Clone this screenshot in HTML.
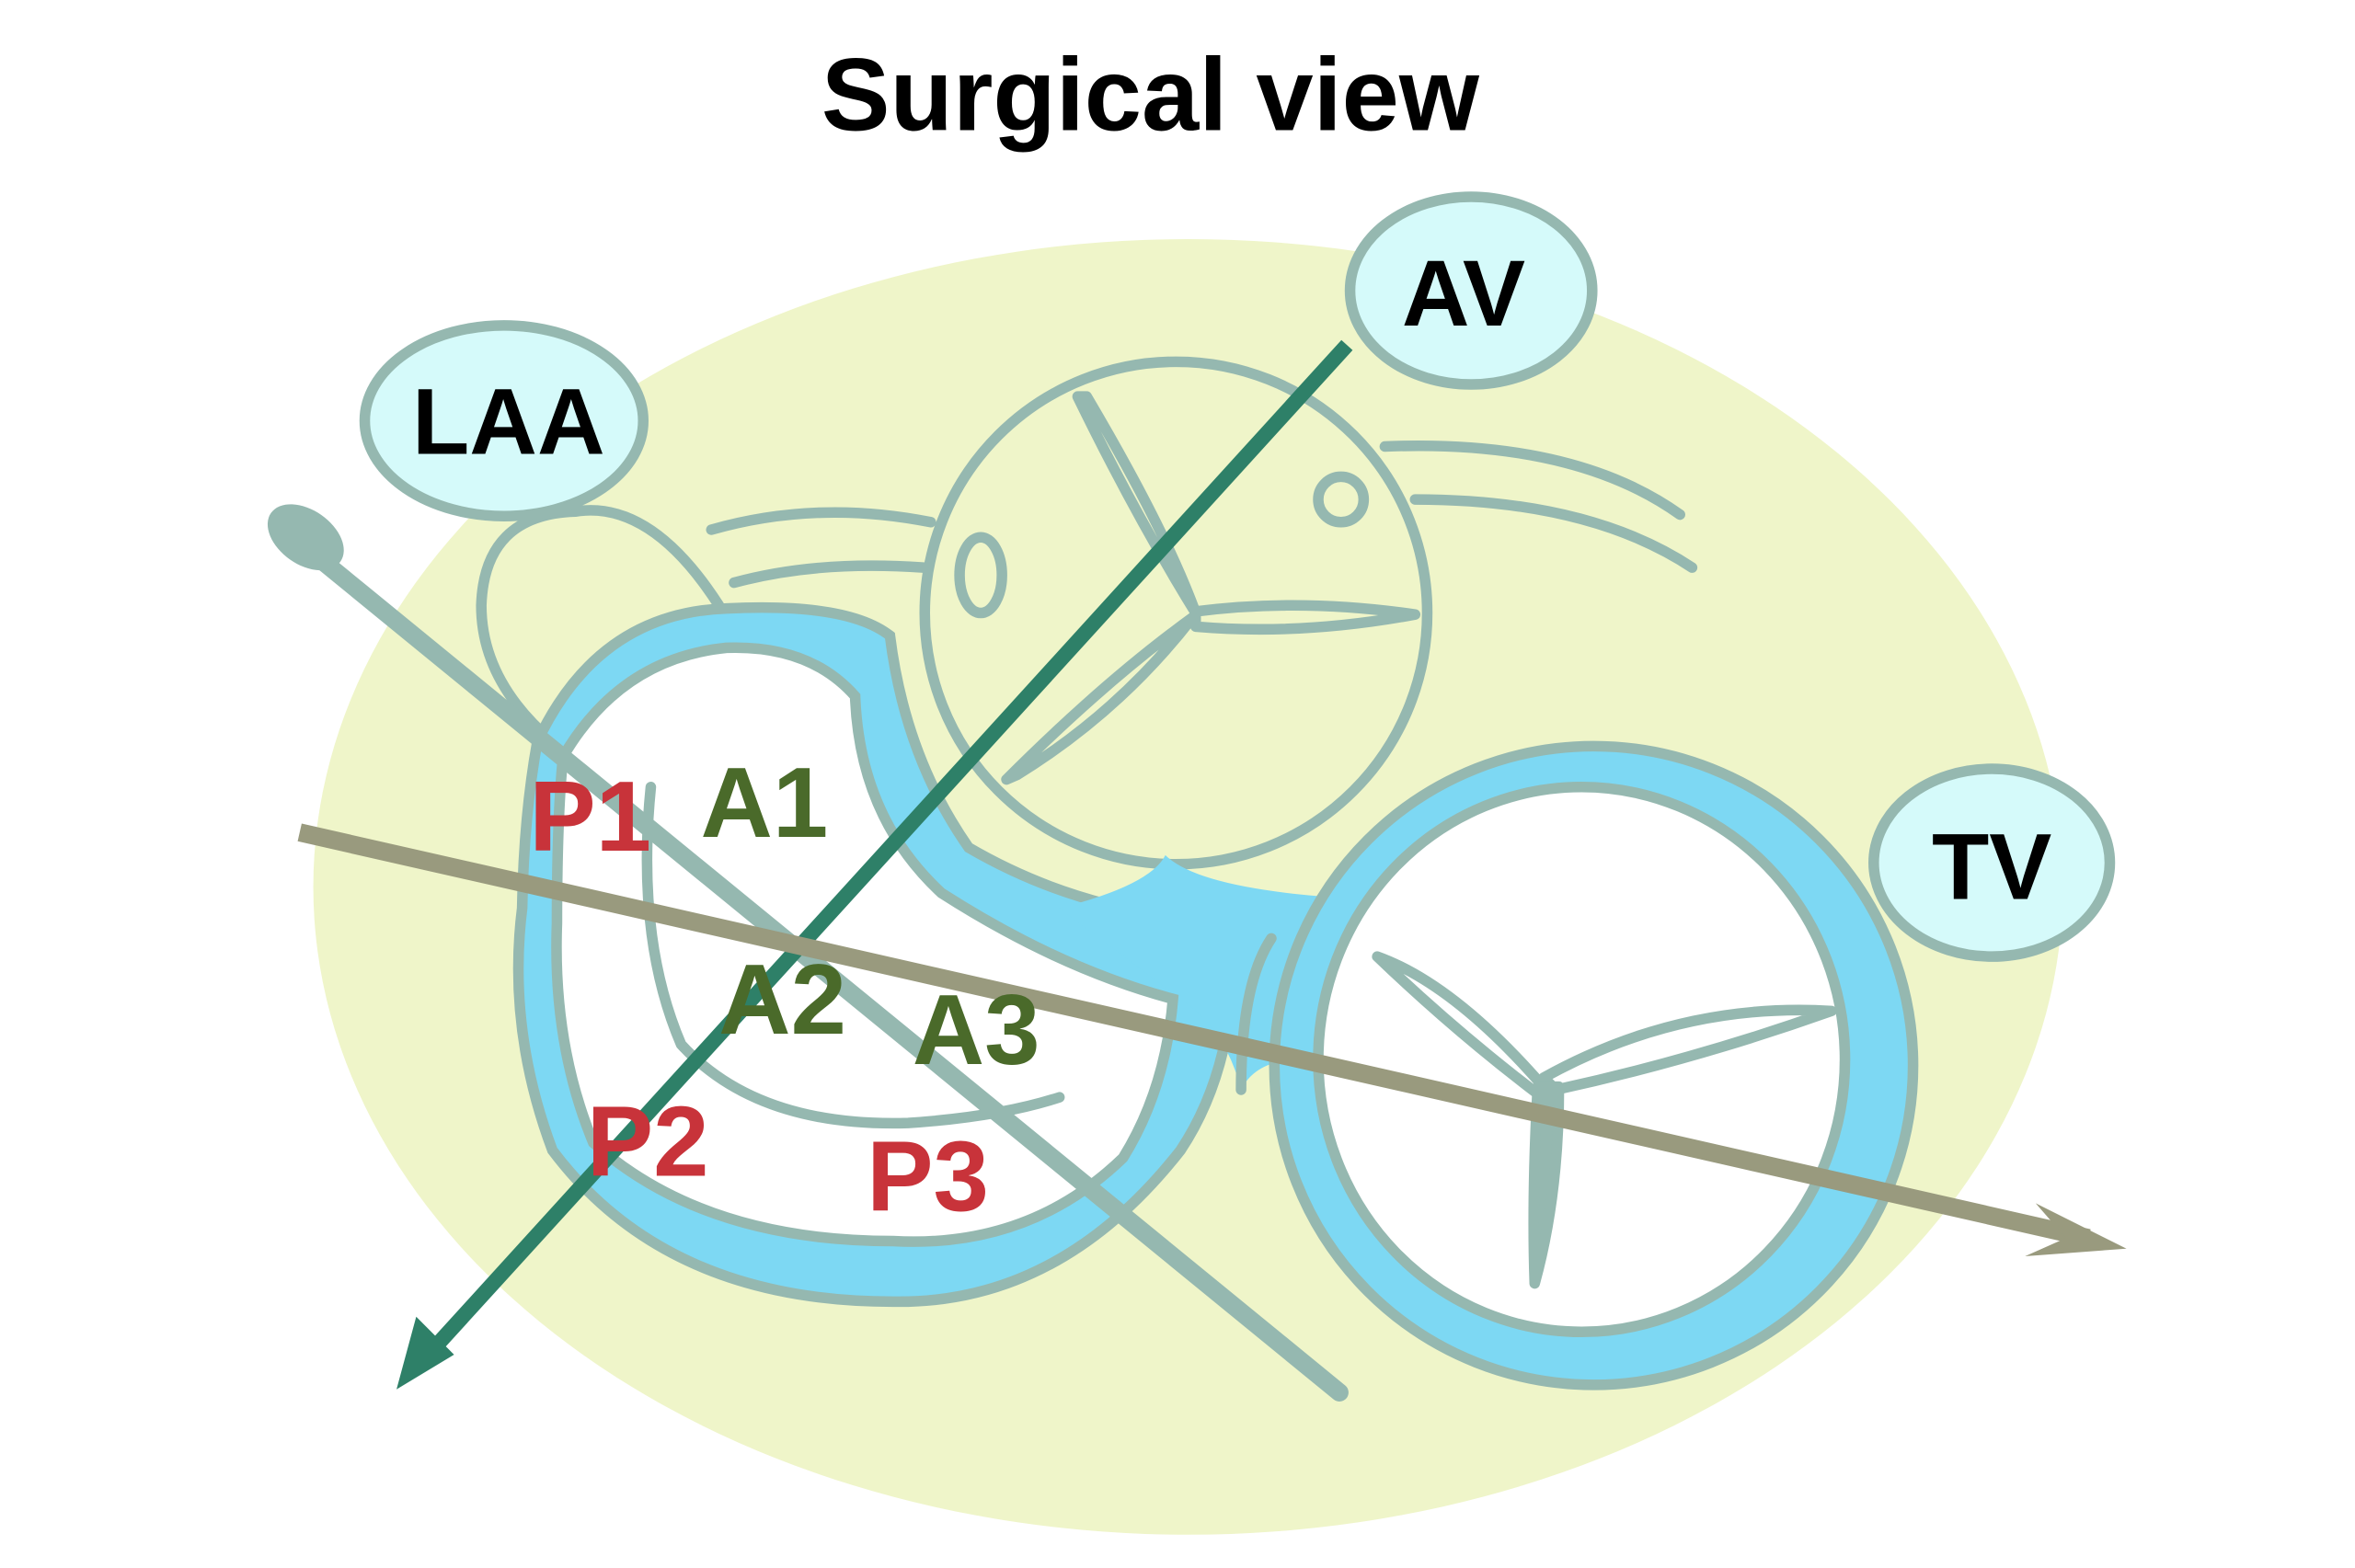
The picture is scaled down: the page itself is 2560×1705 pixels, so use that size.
<!DOCTYPE html>
<html><head><meta charset="utf-8"><style>
html,body{margin:0;padding:0;background:#fff;}
svg{display:block;}
text{font-family:"Liberation Sans",sans-serif;font-weight:bold;}
</style></head><body>
<svg width="2560" height="1705" viewBox="0 0 1556 1036" preserveAspectRatio="none" xmlns="http://www.w3.org/2000/svg">
<rect width="1556" height="1036" fill="#fff"/>
<text x="760" y="86" font-size="68" text-anchor="middle" fill="#000">Surgical view</text>
<ellipse cx="785" cy="586" rx="578" ry="428" fill="#eff5c9"/>
<g stroke="#95b8b0" stroke-width="7" fill="none" stroke-linecap="round" stroke-linejoin="round">
<!-- aortic valve -->
<ellipse cx="777" cy="405" rx="166" ry="166"/>
<path d="M712 262 Q750 340 790 405 Q770 350 718 262 Z"/>
<path d="M790 404 Q860 395 935 406 Q860 420 790 414 Z"/>
<path d="M665 515 Q730 450 788 408 Q740 470 672 512 Z"/>
<ellipse cx="648" cy="380" rx="14" ry="25"/>
<circle cx="886" cy="330" r="15"/>
<path d="M470 350 Q540 330 615 345"/>
<path d="M485 385 Q540 370 610 375"/>
<path d="M915 295 Q1040 290 1110 340"/>
<path d="M935 330 Q1050 330 1118 375"/>
<!-- LAA shape -->
<path d="M475 400 Q430 330 380 338 Q320 340 318 400 Q318 450 365 490"/>
</g>
<!-- mitral ring -->
<path d="M355 490 Q395 405 480 402 Q560 398 588 420 Q598 500 640 560 Q700 595 770 605 L815 605 Q820 700 780 760 Q700 862 590 860 Q440 860 365 760 Q335 680 345 600 Q346 540 355 490 Z" fill="#7dd8f3" stroke="#95b8b0" stroke-width="7"/>
<!-- connection -->
<path d="M700 600 Q760 585 770 565 Q790 585 870 592 L890 620 Q860 660 860 700 Q830 700 820 720 Q810 680 780 660 Z" fill="#7dd8f3"/>
<!-- tricuspid ring -->
<ellipse cx="1053" cy="704" rx="211" ry="211" fill="#7dd8f3" stroke="#95b8b0" stroke-width="7"/>
<ellipse cx="1045" cy="700" rx="174" ry="180" fill="#fff" stroke="#95b8b0" stroke-width="7"/>
<!-- mitral inner white -->
<path d="M372 500 Q410 435 480 428 Q535 426 565 460 Q568 540 622 590 Q700 640 775 660 Q770 720 742 765 Q680 825 590 820 Q465 820 392 755 Q365 690 368 610 Q368 540 372 500 Z" fill="#fff" stroke="#95b8b0" stroke-width="7"/>
<g stroke="#95b8b0" stroke-width="7" fill="none" stroke-linecap="round" stroke-linejoin="round">
<path d="M430 520 Q420 620 450 690 Q500 745 600 742 Q660 738 700 725"/>
<path d="M820 720 Q820 650 840 620"/>
<!-- TV leaflets -->
<path d="M1018 716 Q960 650 910 632 Q960 680 1015 722 Z" fill="#fff"/>
<path d="M1020 712 Q1110 662 1210 668 Q1120 700 1028 720 Z" fill="#fff"/>
<path d="M1016 718 Q1012 790 1014 848 Q1030 790 1030 718 Z" fill="#95b8b0"/>
<!-- long gray line -->
<line x1="200" y1="360" x2="885" y2="920" stroke-width="12"/>
</g>
<ellipse cx="202" cy="355" rx="28" ry="18" transform="rotate(35 202 355)" fill="#95b8b0"/>
<!-- green arrow -->
<line x1="890" y1="228" x2="282" y2="896" stroke="#2e8068" stroke-width="10"/>
<polygon points="262,918 275,870 300,895" fill="#2e8068"/>
<!-- olive arrow -->
<line x1="198" y1="550" x2="1380" y2="818" stroke="#999a7e" stroke-width="12"/>
<polygon points="1405,825 1345,795 1365,818 1338,830" fill="#999a7e"/>
<!-- labels -->
<g font-size="66">
<text x="390" y="562" fill="#c8333a" text-anchor="middle">P1</text>
<text x="505" y="553" fill="#4a6a2a" text-anchor="middle">A1</text>
<text x="517" y="683" fill="#4a6a2a" text-anchor="middle">A2</text>
<text x="645" y="703" fill="#4a6a2a" text-anchor="middle">A3</text>
<text x="428" y="777" fill="#c8333a" text-anchor="middle">P2</text>
<text x="613" y="800" fill="#c8333a" text-anchor="middle">P3</text>
</g>
<g stroke="#95b8b0" stroke-width="7" fill="#d5fafa">
<ellipse cx="972" cy="192" rx="80" ry="62"/>
<ellipse cx="333" cy="278" rx="92" ry="63"/>
<ellipse cx="1316" cy="570" rx="78" ry="62"/>
</g>
<g font-size="62" fill="#000" text-anchor="middle">
<text x="967" y="215">AV</text>
<text x="336" y="300">LAA</text>
<text x="1316" y="594">TV</text>
</g>
</svg>
</body></html>
